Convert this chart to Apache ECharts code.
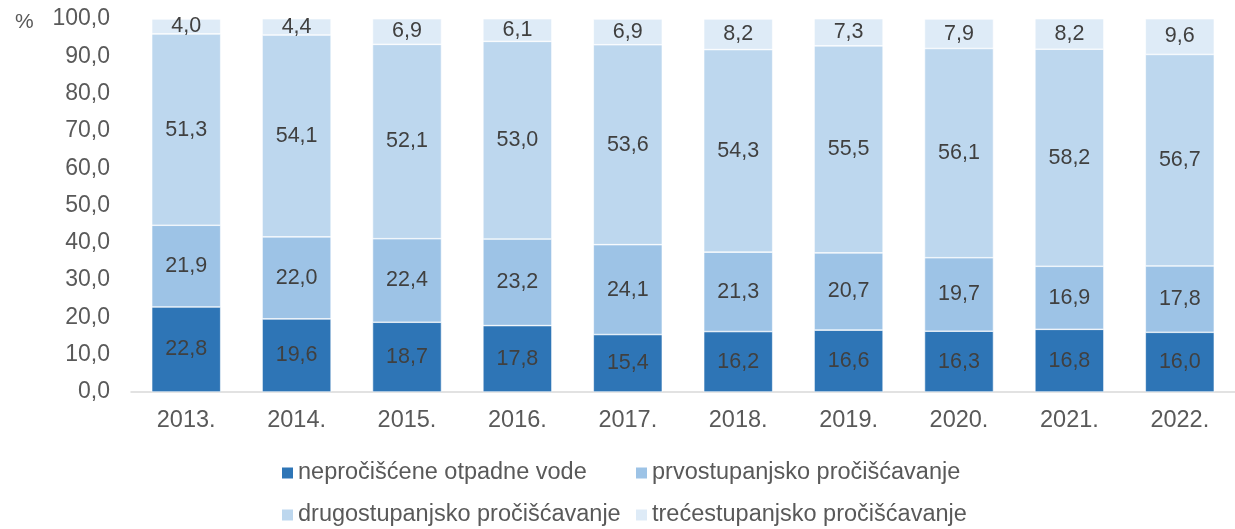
<!DOCTYPE html>
<html>
<head>
<meta charset="utf-8">
<script src="https://cdn.jsdelivr.net/npm/echarts@6/dist/echarts.min.js"></script>
<style>
  html, body { margin: 0; padding: 0; background: #fff; }
  #chart { width: 1235px; height: 529px; }
</style>
</head>
<body>
<div id="chart"></div>
<script>
const years = ['2013.', '2014.', '2015.', '2016.', '2017.', '2018.', '2019.', '2020.', '2021.', '2022.'];
const seriesNames = [
  'nepročišćene otpadne vode',
  'prvostupanjsko pročišćavanje',
  'drugostupanjsko pročišćavanje',
  'trećestupanjsko pročišćavanje'
];
const untreated = [22.8, 19.6, 18.7, 17.8, 15.4, 16.2, 16.6, 16.3, 16.8, 16.0];
const primary = [21.9, 22.0, 22.4, 23.2, 24.1, 21.3, 20.7, 19.7, 16.9, 17.8];
const secondary = [51.3, 54.1, 52.1, 53.0, 53.6, 54.3, 55.5, 56.1, 58.2, 56.7];
const tertiary = [4.0, 4.4, 6.9, 6.1, 6.9, 8.2, 7.3, 7.9, 8.2, 9.6];
const colors = ['#2E75B6', '#9DC3E6', '#BDD7EE', '#DEEBF7'];

const font = '"Liberation Sans", Arial, sans-serif';
const fmt = (v) => v.toFixed(1).replace('.', ',');

const chart = echarts.init(document.getElementById('chart'));

const values = [untreated, primary, secondary, tertiary];

// one legend per item so the two columns line up like the original
const legendPos = [
  { left: 280, top: 461 },
  { left: 634, top: 461 },
  { left: 280, top: 503 },
  { left: 634, top: 503 }
];

const option = {
  animation: false,
  color: colors,
  title: {
    text: '%',
    left: 10,
    top: 7,
    textStyle: { color: '#595959', fontSize: 21, fontWeight: 'normal', fontFamily: font }
  },
  legend: legendPos.map((p, i) => ({
    data: [seriesNames[i]],
    left: p.left,
    top: p.top,
    icon: 'rect',
    itemWidth: 13,
    itemHeight: 13,
    itemGap: 0,
    padding: 0,
    textStyle: { color: '#595959', fontSize: 23.5, fontFamily: font, padding: [0, 0, 0, -1] }
  })),
  grid: {
    left: 131,
    right: -4,
    top: 19,
    bottom: 137
  },
  xAxis: {
    type: 'category',
    data: years,
    axisLine: { lineStyle: { color: '#D9D9D9', width: 1.5 } },
    axisTick: { show: false },
    axisLabel: { color: '#595959', fontSize: 23.5, fontFamily: font, margin: 17 }
  },
  yAxis: {
    type: 'value',
    min: 0,
    max: 100,
    interval: 10,
    axisLine: { show: false },
    axisTick: { show: false },
    splitLine: { show: false },
    axisLabel: {
      color: '#595959',
      fontSize: 23,
      fontFamily: font,
      margin: 21,
      formatter: (v) => fmt(v)
    }
  },
  series: values.map((arr, i) => ({
    name: seriesNames[i],
    type: 'bar',
    stack: 'total',
    data: arr,
    barWidth: 69,
    itemStyle: { color: colors[i], borderColor: '#ffffff', borderWidth: 0.6 },
    label: {
      show: true,
      position: 'inside',
      color: '#404040',
      fontSize: 21.5,
      fontFamily: font,
      formatter: (p) => fmt(p.value)
    }
  }))
};

chart.setOption(option);
</script>
</body>
</html>
